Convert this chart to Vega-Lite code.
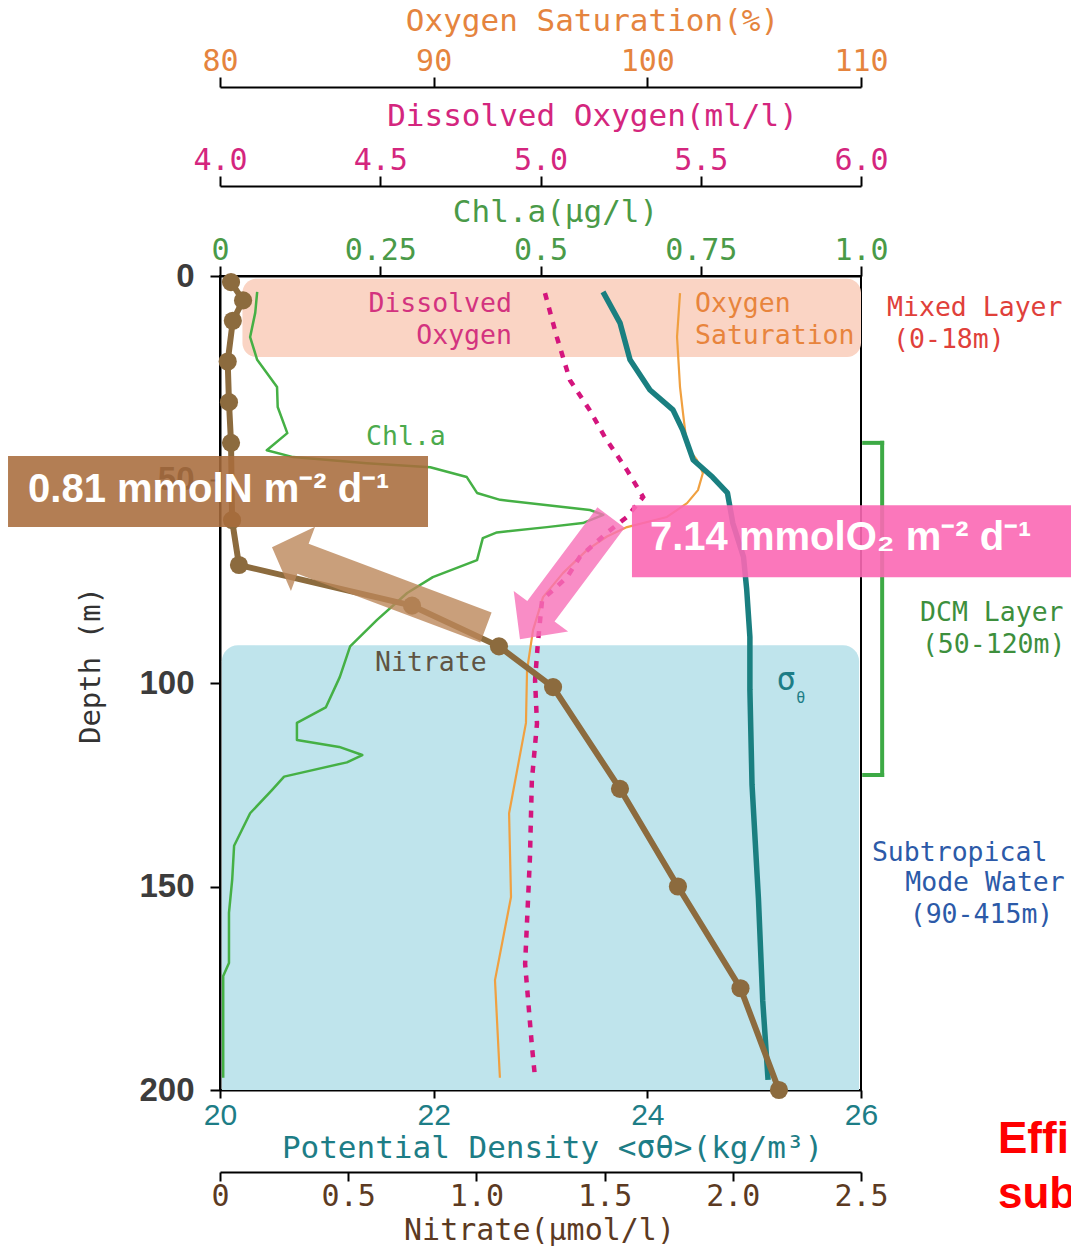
{
  "$schema": "https://vega.github.io/schema/vega-lite/v6.json",
  "width": 641,
  "height": 814,
  "autosize": {"type": "none"},
  "padding": {"left": 220, "top": 276, "right": 210, "bottom": 158},
  "background": "white",
  "config": {
    "view": {"stroke": "#000", "strokeWidth": 2},
    "axis": {
      "grid": false, "domainColor": "#000", "domainWidth": 2, "tickColor": "#000", "tickWidth": 2,
      "tickSize": 10, "labelPadding": 1, "labelOverlap": false, "labelFlush": false,
      "labelFont": "DejaVu Sans Mono", "labelFontSize": 30,
      "titleFont": "DejaVu Sans Mono", "titleFontSize": 31, "titleFontWeight": "normal",
      "titleBaseline": "middle", "titleAlign": "center"
    }
  },
  "datasets": {
    "bands": [
      {"cx": 0.035, "cx2": 1.0, "depth": 0.7, "depth2": 19.9, "zone": "mixed"},
      {"cx": 0.003, "cx2": 0.997, "depth": 90.7, "depth2": 200, "zone": "stmw"}
    ],
    "chl": [
      {"depth": 3.9, "chl": 0.058}, {"depth": 9, "chl": 0.055}, {"depth": 15, "chl": 0.047}, {"depth": 20.6, "chl": 0.058},
      {"depth": 27.3, "chl": 0.089}, {"depth": 32.2, "chl": 0.09}, {"depth": 38.6, "chl": 0.105}, {"depth": 42.8, "chl": 0.073},
      {"depth": 44.5, "chl": 0.114}, {"depth": 46, "chl": 0.229}, {"depth": 47, "chl": 0.328}, {"depth": 49.4, "chl": 0.385},
      {"depth": 53.3, "chl": 0.401}, {"depth": 55, "chl": 0.437}, {"depth": 57.5, "chl": 0.577}, {"depth": 58.7, "chl": 0.598},
      {"depth": 60.7, "chl": 0.566}, {"depth": 61.7, "chl": 0.51}, {"depth": 63, "chl": 0.432}, {"depth": 64.4, "chl": 0.41},
      {"depth": 69.8, "chl": 0.401}, {"depth": 74, "chl": 0.332}, {"depth": 77.9, "chl": 0.292}, {"depth": 84.5, "chl": 0.245},
      {"depth": 91, "chl": 0.203}, {"depth": 98.5, "chl": 0.187}, {"depth": 106, "chl": 0.165}, {"depth": 109.8, "chl": 0.12},
      {"depth": 114, "chl": 0.12}, {"depth": 115.7, "chl": 0.186}, {"depth": 117.7, "chl": 0.222}, {"depth": 119.5, "chl": 0.198},
      {"depth": 123, "chl": 0.1}, {"depth": 126.3, "chl": 0.081}, {"depth": 132, "chl": 0.047}, {"depth": 140, "chl": 0.022},
      {"depth": 148.4, "chl": 0.019}, {"depth": 156.5, "chl": 0.014}, {"depth": 165, "chl": 0.014}, {"depth": 168.8, "chl": 0.014},
      {"depth": 172, "chl": 0.005}, {"depth": 197, "chl": 0.005}
    ],
    "sat": [
      {"depth": 4.2, "sat": 101.53}, {"depth": 15, "sat": 101.39}, {"depth": 27.3, "sat": 101.53}, {"depth": 33.7, "sat": 101.67},
      {"depth": 42, "sat": 101.86}, {"depth": 45.2, "sat": 102.32}, {"depth": 48.4, "sat": 102.6}, {"depth": 52.6, "sat": 102.37},
      {"depth": 55.8, "sat": 101.86}, {"depth": 59.2, "sat": 100.92}, {"depth": 61.7, "sat": 99.05}, {"depth": 64, "sat": 98.11},
      {"depth": 67.3, "sat": 97.18}, {"depth": 73, "sat": 96.05}, {"depth": 78.9, "sat": 95.12}, {"depth": 87, "sat": 94.65},
      {"depth": 96.8, "sat": 94.37}, {"depth": 109.8, "sat": 94.32}, {"depth": 132, "sat": 93.53}, {"depth": 152.6, "sat": 93.62},
      {"depth": 173, "sat": 92.87}, {"depth": 197, "sat": 93.1}
    ],
    "dox": [
      {"depth": 4.2, "do": 5.014}, {"depth": 15, "do": 5.051}, {"depth": 25.6, "do": 5.092}, {"depth": 33, "do": 5.154},
      {"depth": 39.6, "do": 5.201}, {"depth": 47.7, "do": 5.27}, {"depth": 54.3, "do": 5.32}, {"depth": 59.2, "do": 5.27},
      {"depth": 63.1, "do": 5.207}, {"depth": 69, "do": 5.123}, {"depth": 74, "do": 5.083}, {"depth": 79.6, "do": 5.005},
      {"depth": 90, "do": 4.992}, {"depth": 99.3, "do": 4.983}, {"depth": 110, "do": 4.989}, {"depth": 124, "do": 4.973},
      {"depth": 143, "do": 4.967}, {"depth": 169, "do": 4.952}, {"depth": 189, "do": 4.973}, {"depth": 197, "do": 4.983}
    ],
    "sigma": [
      {"depth": 3.9, "sigma": 23.585}, {"depth": 11.5, "sigma": 23.744}, {"depth": 20.6, "sigma": 23.838}, {"depth": 28, "sigma": 24.025},
      {"depth": 32.9, "sigma": 24.24}, {"depth": 37.8, "sigma": 24.33}, {"depth": 45.2, "sigma": 24.43}, {"depth": 49.4, "sigma": 24.61},
      {"depth": 53.3, "sigma": 24.75}, {"depth": 60.7, "sigma": 24.8}, {"depth": 69, "sigma": 24.9}, {"depth": 77, "sigma": 24.93},
      {"depth": 88.7, "sigma": 24.96}, {"depth": 101.7, "sigma": 24.96}, {"depth": 125, "sigma": 24.98}, {"depth": 153, "sigma": 25.04},
      {"depth": 178, "sigma": 25.08}, {"depth": 197.5, "sigma": 25.13}
    ],
    "nitrate": [
      {"depth": 1.5, "no3": 0.043}, {"depth": 6, "no3": 0.09}, {"depth": 11, "no3": 0.05}, {"depth": 21, "no3": 0.03},
      {"depth": 31, "no3": 0.035}, {"depth": 41, "no3": 0.043}, {"depth": 60, "no3": 0.047}, {"depth": 71, "no3": 0.074},
      {"depth": 81, "no3": 0.749}, {"depth": 91, "no3": 1.088}, {"depth": 101, "no3": 1.299}, {"depth": 126, "no3": 1.56},
      {"depth": 150, "no3": 1.786}, {"depth": 175, "no3": 2.03}, {"depth": 200, "no3": 2.18}
    ],
    "bracket": [
      {"cx": 1.033, "cx2": 1.033, "depth": 41, "depth2": 122.6},
      {"cx": 1.005, "cx2": 1.033, "depth": 41, "depth2": 41},
      {"cx": 1.005, "cx2": 1.033, "depth": 122.6, "depth2": 122.6}
    ],
    "notes": [
      {"cx": 0.2278, "depth": 39.6, "text": "Chl.a", "group": "chl", "side": "left"},
      {"cx": 0.741, "depth": 6.9, "text": "Oxygen", "group": "sat", "side": "left"},
      {"cx": 0.741, "depth": 14.7, "text": "Saturation", "group": "sat", "side": "left"},
      {"cx": 0.4555, "depth": 6.9, "text": "Dissolved", "group": "do", "side": "right"},
      {"cx": 0.4555, "depth": 14.7, "text": "Oxygen", "group": "do", "side": "right"},
      {"cx": 0.2418, "depth": 95.1, "text": "Nitrate", "group": "no3", "side": "left"},
      {"cx": 1.0406, "depth": 7.9, "text": "Mixed Layer", "group": "mixed", "side": "left"},
      {"cx": 1.05, "depth": 15.7, "text": "(0-18m)", "group": "mixed", "side": "left"},
      {"cx": 1.092, "depth": 82.8, "text": "DCM Layer", "group": "dcm", "side": "left"},
      {"cx": 1.095, "depth": 90.7, "text": "(50-120m)", "group": "dcm", "side": "left"},
      {"cx": 1.017, "depth": 141.8, "text": "Subtropical", "group": "stmw", "side": "left"},
      {"cx": 1.069, "depth": 149.1, "text": "Mode Water", "group": "stmw", "side": "left"},
      {"cx": 1.076, "depth": 157, "text": "(90-415m)", "group": "stmw", "side": "left"}
    ],
    "sigmaLabel": [
      {"cx": 0.883, "depth": 99.3, "text": "σ", "part": "main"},
      {"cx": 0.906, "depth": 103.6, "text": "θ", "part": "sub"}
    ],
    "boxes": [
      {"cx": -0.3307, "cx2": 0.3245, "depth": 44.2, "depth2": 61.7, "kind": "N"},
      {"cx": 0.6427, "cx2": 1.35, "depth": 56.3, "depth2": 74.0, "kind": "O"}
    ],
    "arrows": [
      {"cx": 0.248, "depth": 76.5, "kind": "N"},
      {"cx": 0.539, "depth": 74.3, "kind": "O"}
    ],
    "flux": [
      {"cx": -0.2995, "depth": 52.6, "text": "0.81 mmolN m⁻² d⁻¹"},
      {"cx": 0.6708, "depth": 64.4, "text": "7.14 mmolO₂ m⁻² d⁻¹"}
    ],
    "cut": [
      {"cx": 1.2137, "depth": 212.3, "text": "Effi"},
      {"cx": 1.2137, "depth": 225.8, "text": "sub"}
    ]
  },
  "encoding": {
    "y": {
      "field": "depth", "type": "quantitative",
      "scale": {"domain": [0, 200], "reverse": true, "nice": false, "zero": false},
      "axis": {
        "title": "Depth (m)", "values": [0, 50, 100, 150, 200],
        "tickSize": 10, "labelPadding": 16,
        "labelFont": "Liberation Sans", "labelFontSize": 33, "labelFontWeight": "bold", "labelColor": "#3c3c3c",
        "titleFontSize": 29, "titleColor": "#333333", "titleAngle": -90, "titleX": -130, "titleY": 389
      }
    }
  },
  "resolve": {"scale": {"x": "independent"}, "axis": {"x": "independent"}},
  "layer": [
    {
      "data": {"name": "bands"},
      "transform": [{"filter": "datum.zone == 'mixed'"}],
      "mark": {"type": "rect", "color": "#fad4c4", "cornerRadius": 14},
      "encoding": {
        "x": {"field": "cx", "type": "quantitative", "scale": {"domain": [0, 1], "nice": false, "zero": false}, "axis": null},
        "x2": {"field": "cx2"},
        "y2": {"field": "depth2"}
      }
    },
    {
      "data": {"name": "bands"},
      "transform": [{"filter": "datum.zone == 'stmw'"}],
      "mark": {"type": "rect", "color": "#bfe4ec", "cornerRadiusTopLeft": 16, "cornerRadiusTopRight": 16},
      "encoding": {
        "x": {"field": "cx", "type": "quantitative", "scale": {"domain": [0, 1], "nice": false, "zero": false}, "axis": null},
        "x2": {"field": "cx2"},
        "y2": {"field": "depth2"}
      }
    },
    {
      "data": {"name": "chl"},
      "mark": {"type": "line", "color": "#45b045", "strokeWidth": 2.5, "strokeJoin": "round"},
      "encoding": {
        "x": {
          "field": "chl", "type": "quantitative", "scale": {"domain": [0, 1], "nice": false, "zero": false},
          "axis": {
            "orient": "top", "offset": 0, "values": [0, 0.25, 0.5, 0.75, 1],
            "labelExpr": "datum.value == 0 ? '0' : datum.value == 1 ? '1.0' : format(datum.value, '~g')",
            "labelColor": "#4a9a48", "title": "Chl.a(μg/l)", "titleColor": "#4a9a48", "titleX": 335, "titleY": -64
          }
        },
        "order": {"field": "depth", "type": "quantitative"}
      }
    },
    {
      "data": {"name": "sat"},
      "mark": {"type": "line", "color": "#f0a040", "strokeWidth": 2.2, "strokeJoin": "round"},
      "encoding": {
        "x": {
          "field": "sat", "type": "quantitative", "scale": {"domain": [80, 110], "nice": false, "zero": false},
          "axis": {
            "orient": "top", "offset": 189, "values": [80, 90, 100, 110],
            "labelColor": "#e5843e", "title": "Oxygen Saturation(%)", "titleColor": "#e5843e", "titleX": 372, "titleY": -66
          }
        },
        "order": {"field": "depth", "type": "quantitative"}
      }
    },
    {
      "data": {"name": "dox"},
      "mark": {"type": "line", "color": "#d4157d", "strokeWidth": 4.5, "strokeDash": [7, 8]},
      "encoding": {
        "x": {
          "field": "do", "type": "quantitative", "scale": {"domain": [4, 6], "nice": false, "zero": false},
          "axis": {
            "orient": "top", "offset": 90, "values": [4, 4.5, 5, 5.5, 6], "format": ".1f",
            "labelColor": "#d4267e", "title": "Dissolved Oxygen(ml/l)", "titleColor": "#d4267e", "titleX": 372, "titleY": -70
          }
        },
        "order": {"field": "depth", "type": "quantitative"}
      }
    },
    {
      "data": {"name": "sigma"},
      "mark": {"type": "line", "color": "#1a7f80", "strokeWidth": 5.5, "strokeJoin": "round"},
      "encoding": {
        "x": {
          "field": "sigma", "type": "quantitative", "scale": {"domain": [20, 26], "nice": false, "zero": false},
          "axis": {
            "orient": "bottom", "offset": 0, "values": [20, 22, 24, 26], "tickSize": 8, "labelPadding": 2,
            "labelFont": "Liberation Sans", "labelFontSize": 30, "labelColor": "#1d7d86",
            "title": "Potential Density <σθ>(kg/m³)", "titleColor": "#1d7d86", "titleX": 332, "titleY": 58
          }
        },
        "order": {"field": "depth", "type": "quantitative"}
      }
    },
    {
      "data": {"name": "nitrate"},
      "mark": {"type": "line", "color": "#8c6b3e", "strokeWidth": 6, "strokeJoin": "round"},
      "encoding": {
        "x": {
          "field": "no3", "type": "quantitative", "scale": {"domain": [0, 2.5], "nice": false, "zero": false},
          "axis": {
            "orient": "bottom", "offset": 82, "values": [0, 0.5, 1, 1.5, 2, 2.5], "tickSize": 9, "labelPadding": 0,
            "labelExpr": "datum.value == 0 ? '0' : format(datum.value, '.1f')",
            "labelColor": "#5c3a22", "title": "Nitrate(μmol/l)", "titleFontSize": 30, "titleColor": "#5c3a22", "titleX": 319, "titleY": 58
          }
        },
        "order": {"field": "depth", "type": "quantitative"}
      }
    },
    {
      "data": {"name": "nitrate"},
      "mark": {"type": "point", "filled": true, "color": "#8c6b3e", "size": 330, "opacity": 1},
      "encoding": {
        "x": {"field": "no3", "type": "quantitative", "scale": {"domain": [0, 2.5], "nice": false, "zero": false}, "axis": null}
      }
    },
    {
      "data": {"name": "bracket"},
      "mark": {"type": "rule", "color": "#3daa45", "strokeWidth": 4, "strokeCap": "square"},
      "encoding": {
        "x": {"field": "cx", "type": "quantitative", "scale": {"domain": [0, 1], "nice": false, "zero": false}, "axis": null},
        "x2": {"field": "cx2"},
        "y2": {"field": "depth2"}
      }
    },
    {
      "data": {"name": "notes"},
      "transform": [{"filter": "datum.side == 'left'"}],
      "mark": {"type": "text", "font": "DejaVu Sans Mono", "fontSize": 26.5, "align": "left", "baseline": "middle"},
      "encoding": {
        "x": {"field": "cx", "type": "quantitative", "scale": {"domain": [0, 1], "nice": false, "zero": false}, "axis": null},
        "text": {"field": "text"},
        "color": {
          "field": "group", "type": "nominal", "legend": null,
          "scale": {"domain": ["chl", "sat", "do", "no3", "mixed", "dcm", "stmw"], "range": ["#4caa4c", "#e8843c", "#d3337f", "#5f5443", "#e0403a", "#3d8f3d", "#2c5aa8"]}
        }
      }
    },
    {
      "data": {"name": "notes"},
      "transform": [{"filter": "datum.side == 'right'"}],
      "mark": {"type": "text", "font": "DejaVu Sans Mono", "fontSize": 26.5, "align": "right", "baseline": "middle"},
      "encoding": {
        "x": {"field": "cx", "type": "quantitative", "scale": {"domain": [0, 1], "nice": false, "zero": false}, "axis": null},
        "text": {"field": "text"},
        "color": {
          "field": "group", "type": "nominal", "legend": null,
          "scale": {"domain": ["chl", "sat", "do", "no3", "mixed", "dcm", "stmw"], "range": ["#4caa4c", "#e8843c", "#d3337f", "#5f5443", "#e0403a", "#3d8f3d", "#2c5aa8"]}
        }
      }
    },
    {
      "data": {"name": "sigmaLabel"},
      "transform": [{"filter": "datum.part == 'main'"}],
      "mark": {"type": "text", "font": "DejaVu Sans Mono", "fontSize": 32, "align": "center", "baseline": "middle", "color": "#1d7d86"},
      "encoding": {
        "x": {"field": "cx", "type": "quantitative", "scale": {"domain": [0, 1], "nice": false, "zero": false}, "axis": null},
        "text": {"field": "text"}
      }
    },
    {
      "data": {"name": "sigmaLabel"},
      "transform": [{"filter": "datum.part == 'sub'"}],
      "mark": {"type": "text", "font": "DejaVu Sans Mono", "fontSize": 15, "align": "center", "baseline": "middle", "color": "#1d7d86"},
      "encoding": {
        "x": {"field": "cx", "type": "quantitative", "scale": {"domain": [0, 1], "nice": false, "zero": false}, "axis": null},
        "text": {"field": "text"}
      }
    },
    {
      "data": {"name": "boxes"},
      "transform": [{"filter": "datum.kind == 'N'"}],
      "mark": {"type": "rect", "color": "#a96c3c", "opacity": 0.88},
      "encoding": {
        "x": {"field": "cx", "type": "quantitative", "scale": {"domain": [0, 1], "nice": false, "zero": false}, "axis": null},
        "x2": {"field": "cx2"},
        "y2": {"field": "depth2"}
      }
    },
    {
      "data": {"name": "boxes"},
      "transform": [{"filter": "datum.kind == 'O'"}],
      "mark": {"type": "rect", "color": "#fb68b4", "opacity": 0.9},
      "encoding": {
        "x": {"field": "cx", "type": "quantitative", "scale": {"domain": [0, 1], "nice": false, "zero": false}, "axis": null},
        "x2": {"field": "cx2"},
        "y2": {"field": "depth2"}
      }
    },
    {
      "data": {"name": "arrows"},
      "transform": [{"filter": "datum.kind == 'N'"}],
      "mark": {"type": "point", "shape": "M-1,-0.14L0.71,-0.14L0.71,-0.3L1,0L0.71,0.3L0.71,0.14L-1,0.14Z", "size": 52258, "angle": 200.6, "filled": true, "color": "#bb875a", "opacity": 0.8, "strokeWidth": 0},
      "encoding": {
        "x": {"field": "cx", "type": "quantitative", "scale": {"domain": [0, 1], "nice": false, "zero": false}, "axis": null}
      }
    },
    {
      "data": {"name": "arrows"},
      "transform": [{"filter": "datum.kind == 'O'"}],
      "mark": {"type": "point", "shape": "M-1,-0.224L0.54,-0.224L0.54,-0.447L1,0L0.54,0.447L0.54,0.224L-1,0.224Z", "size": 23104, "angle": 126.8, "filled": true, "color": "#f870b8", "opacity": 0.8, "strokeWidth": 0},
      "encoding": {
        "x": {"field": "cx", "type": "quantitative", "scale": {"domain": [0, 1], "nice": false, "zero": false}, "axis": null}
      }
    },
    {
      "data": {"name": "flux"},
      "mark": {"type": "text", "font": "Liberation Sans", "fontSize": 40, "fontWeight": "bold", "align": "left", "baseline": "middle", "color": "#ffffff"},
      "encoding": {
        "x": {"field": "cx", "type": "quantitative", "scale": {"domain": [0, 1], "nice": false, "zero": false}, "axis": null},
        "text": {"field": "text"}
      }
    },
    {
      "data": {"name": "cut"},
      "mark": {"type": "text", "font": "Liberation Sans", "fontSize": 44, "fontWeight": "bold", "align": "left", "baseline": "middle", "color": "#ff0000"},
      "encoding": {
        "x": {"field": "cx", "type": "quantitative", "scale": {"domain": [0, 1], "nice": false, "zero": false}, "axis": null},
        "text": {"field": "text"}
      }
    }
  ]
}
